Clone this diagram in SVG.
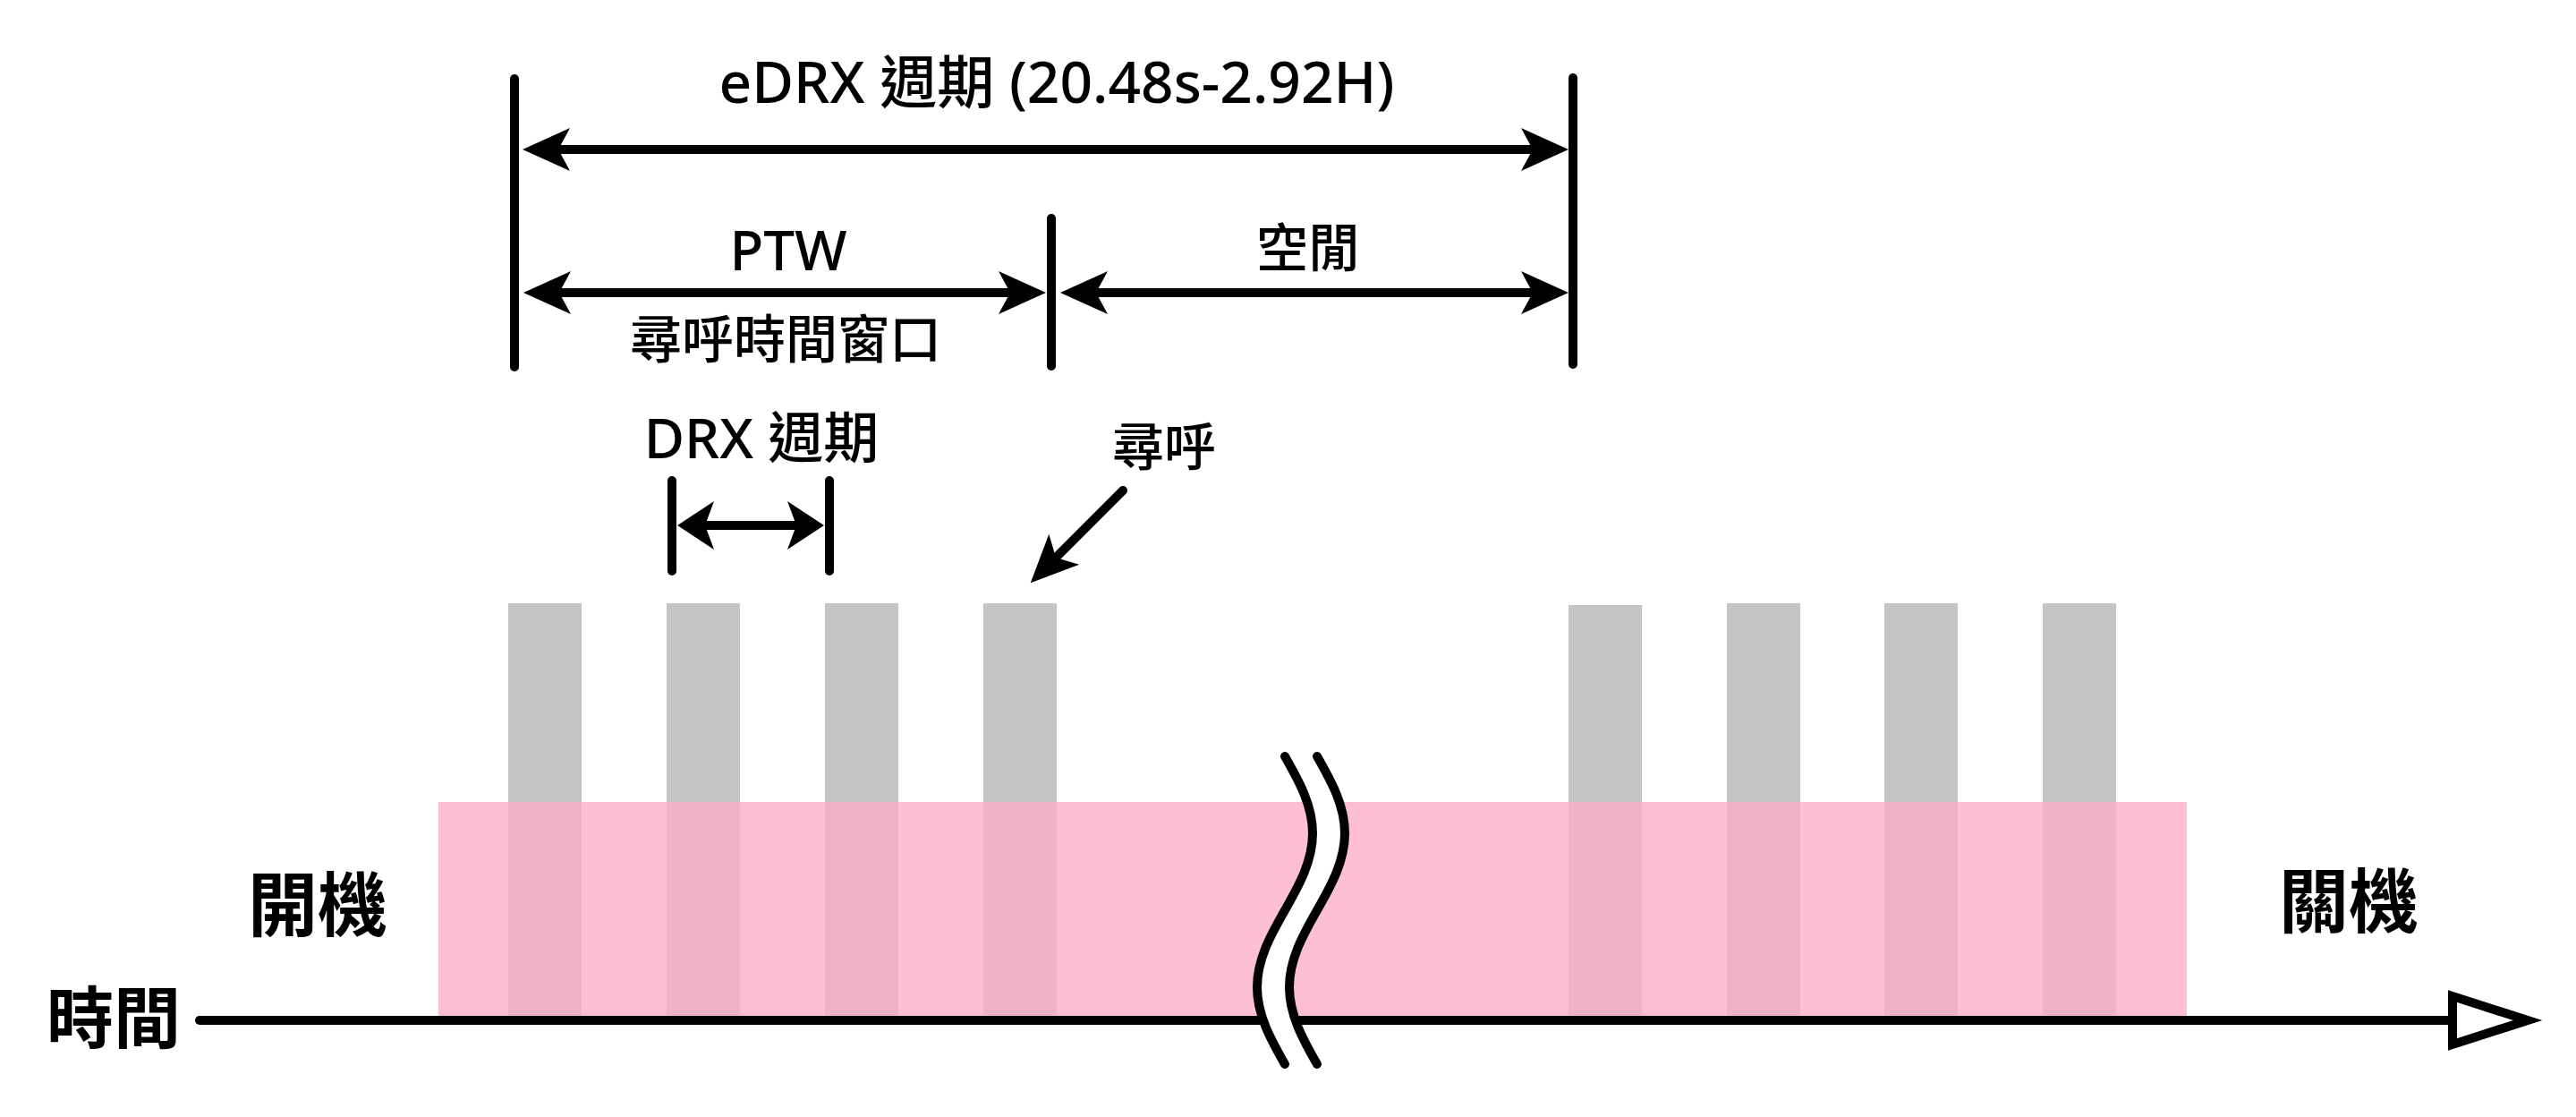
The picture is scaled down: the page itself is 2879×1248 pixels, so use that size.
<svg xmlns="http://www.w3.org/2000/svg" width="2879" height="1248" viewBox="0 0 2879 1248">
  <style>
    .ln { stroke:#000; stroke-width:10; stroke-linecap:round; fill:none; }
    .t { font-family:"Noto Sans","Noto Sans CJK TC",sans-serif; fill:#000; text-anchor:middle; font-weight:500; }
    .tc { font-family:"Noto Sans CJK TC","Noto Sans",sans-serif; fill:#000; text-anchor:middle; font-weight:500; }
    .b { font-weight:700; }
    .gray { fill:#c4c4c4; }
    .ov { fill:#f0b2c8; }
    .pink { fill:#fdbfd5; }
  </style>
  <defs>
    <marker id="ahBig" markerUnits="userSpaceOnUse" viewBox="-56 -26 60 52" markerWidth="60" markerHeight="52" refX="-30" refY="0" orient="auto-start-reverse" overflow="visible">
      <path d="M0,0 L-53,-24 L-40,0 L-53,24 Z" fill="#000"/>
    </marker>
    <marker id="ahDrx" markerUnits="userSpaceOnUse" viewBox="-44 -29 48 58" markerWidth="48" markerHeight="58" refX="-22" refY="0" orient="auto-start-reverse" overflow="visible">
      <path d="M0,0 L-41,-27 L-31,0 L-41,27 Z" fill="#000"/>
    </marker>
  </defs>

  <rect width="2879" height="1248" fill="#fff"/>

  <g id="active-period">
    <rect class="pink" x="490" y="896" width="1954" height="244"/>
  </g>

  <g id="paging-slots">
    <g id="slot1"><rect class="gray" x="568" y="674" width="82" height="222"/><rect class="ov" x="568" y="896" width="82" height="244"/></g>
    <g id="slot2"><rect class="gray" x="745" y="674" width="82" height="222"/><rect class="ov" x="745" y="896" width="82" height="244"/></g>
    <g id="slot3"><rect class="gray" x="922" y="674" width="82" height="222"/><rect class="ov" x="922" y="896" width="82" height="244"/></g>
    <g id="slot4"><rect class="gray" x="1099" y="674" width="82" height="222"/><rect class="ov" x="1099" y="896" width="82" height="244"/></g>
    <g id="slot5"><rect class="gray" x="1753" y="676" width="82" height="220"/><rect class="ov" x="1753" y="896" width="82" height="244"/></g>
    <g id="slot6"><rect class="gray" x="1930" y="674" width="82" height="222"/><rect class="ov" x="1930" y="896" width="82" height="244"/></g>
    <g id="slot7"><rect class="gray" x="2106" y="674" width="82" height="222"/><rect class="ov" x="2106" y="896" width="82" height="244"/></g>
    <g id="slot8"><rect class="gray" x="2283" y="674" width="82" height="222"/><rect class="ov" x="2283" y="896" width="82" height="244"/></g>
  </g>

  <g id="time-axis">
    <line class="ln" x1="223" y1="1140" x2="2741" y2="1140"/>
    <polygon points="2741,1113 2741,1167 2825,1140" fill="#fff" stroke="#000" stroke-width="10" stroke-linejoin="miter"/>
  </g>

  <g id="break-mark">
    <path d="M1436,845 C1452,873 1467,900 1467,931 C1467,962 1452,989 1436,1017 C1420,1045 1405,1072 1405,1103 C1405,1134 1420,1161 1436,1189 L1472,1189 C1456,1161 1441,1134 1441,1103 C1441,1072 1456,1045 1472,1017 C1488,989 1503,962 1503,931 C1503,900 1488,873 1472,845 Z" fill="#fff"/>
    <path class="ln" d="M1436,845 C1452,873 1467,900 1467,931 C1467,962 1452,989 1436,1017 C1420,1045 1405,1072 1405,1103 C1405,1134 1420,1161 1436,1189"/>
    <path class="ln" d="M1472,845 C1488,873 1503,900 1503,931 C1503,962 1488,989 1472,1017 C1456,1045 1441,1072 1441,1103 C1441,1134 1456,1161 1472,1189"/>
  </g>

  <g id="boundaries">
    <line class="ln" x1="575" y1="88" x2="575" y2="410"/>
    <line class="ln" x1="1175" y1="244" x2="1175" y2="409"/>
    <line class="ln" x1="1758" y1="87" x2="1758" y2="407"/>
    <line class="ln" x1="751" y1="537" x2="751" y2="638"/>
    <line class="ln" x1="927" y1="537" x2="927" y2="638"/>
  </g>

  <g id="connectors">
    <line class="ln" style="stroke-linecap:butt" x1="614" y1="167" x2="1723" y2="167" marker-start="url(#ahBig)" marker-end="url(#ahBig)"/>
    <line class="ln" style="stroke-linecap:butt" x1="615" y1="327" x2="1139" y2="327" marker-start="url(#ahBig)" marker-end="url(#ahBig)"/>
    <line class="ln" style="stroke-linecap:butt" x1="1215" y1="327" x2="1723" y2="327" marker-start="url(#ahBig)" marker-end="url(#ahBig)"/>
    <line class="ln" style="stroke-linecap:butt" x1="779" y1="587" x2="899" y2="587" marker-start="url(#ahDrx)" marker-end="url(#ahDrx)"/>
    <line class="ln" x1="1255" y1="548" x2="1173" y2="630" marker-end="url(#ahBig)"/>
  </g>

  <g id="labels">
    <text id="edrx-label" class="t" x="1181" y="115" font-size="64">eDRX 週期 (20.48s-2.92H)</text>
    <text id="ptw-label" class="t" x="881" y="302" font-size="62">PTW</text>
    <text id="ptw-sub" class="tc" x="878" y="400" font-size="58">尋呼時間窗口</text>
    <text id="idle-label" class="tc" x="1462" y="298" font-size="58">空閒</text>
    <text id="drx-label" class="t" x="851" y="512" font-size="62">DRX 週期</text>
    <text id="paging-label" class="tc" x="1301" y="520" font-size="58">尋呼</text>
    <text id="power-on" class="tc b" x="355" y="1040" font-size="78">開機</text>
    <text id="power-off" class="tc b" x="2625" y="1036" font-size="78">關機</text>
    <text id="time-label" class="tc b" x="127" y="1165" font-size="75">時間</text>
  </g>
</svg>
